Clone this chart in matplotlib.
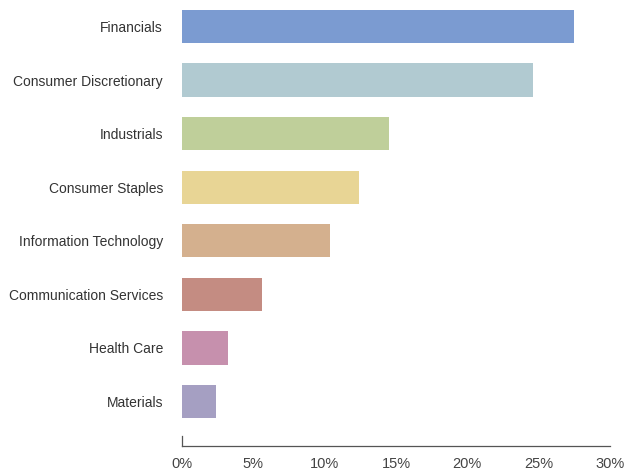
import matplotlib.pyplot as plt
from matplotlib.ticker import FuncFormatter

sectors = ["Financials", "Consumer Discretionary", "Industrials", "Consumer Staples",
           "Information Technology", "Communication Services", "Health Care", "Materials"]
weights = [27.5, 24.6, 14.5, 12.4, 10.4, 5.6, 3.2, 2.4]
colors = ["#7b9bd1", "#b1cad1", "#bfcf9a", "#e8d595", "#d4b08e", "#c48c82", "#c690ad", "#a59fc2"]

plt.rcParams['font.family'] = ['Liberation Sans', 'DejaVu Sans']

fig = plt.figure(figsize=(6.27, 4.72), dpi=100)
ax = fig.add_axes([0.290, 0.055, 0.683, 0.945])

ax.barh(range(len(sectors)), weights, height=0.62, color=colors)
ax.set_ylim(7.83, -0.495)
ax.set_xlim(0, 30)
ax.set_yticks(range(len(sectors)))
ax.set_yticklabels(sectors, fontsize=10, color="#333333")
ax.set_xticks(range(0, 31, 5))
ax.xaxis.set_major_formatter(FuncFormatter(lambda v, p: f"{int(v)}%"))
ax.tick_params(axis='x', length=0, labelsize=10.5, labelcolor="#444444", pad=8)
ax.tick_params(axis='y', length=0, pad=13.5)

for s in ["top", "right", "left"]:
    ax.spines[s].set_visible(False)
ax.spines["bottom"].set_color("#555555")
ax.spines["bottom"].set_linewidth(0.9)
# small stub at the origin
ax.plot([0, 0], [7.83, 7.64], color="#555555", lw=0.9, clip_on=False)

fig.savefig("out.png", dpi=100)
